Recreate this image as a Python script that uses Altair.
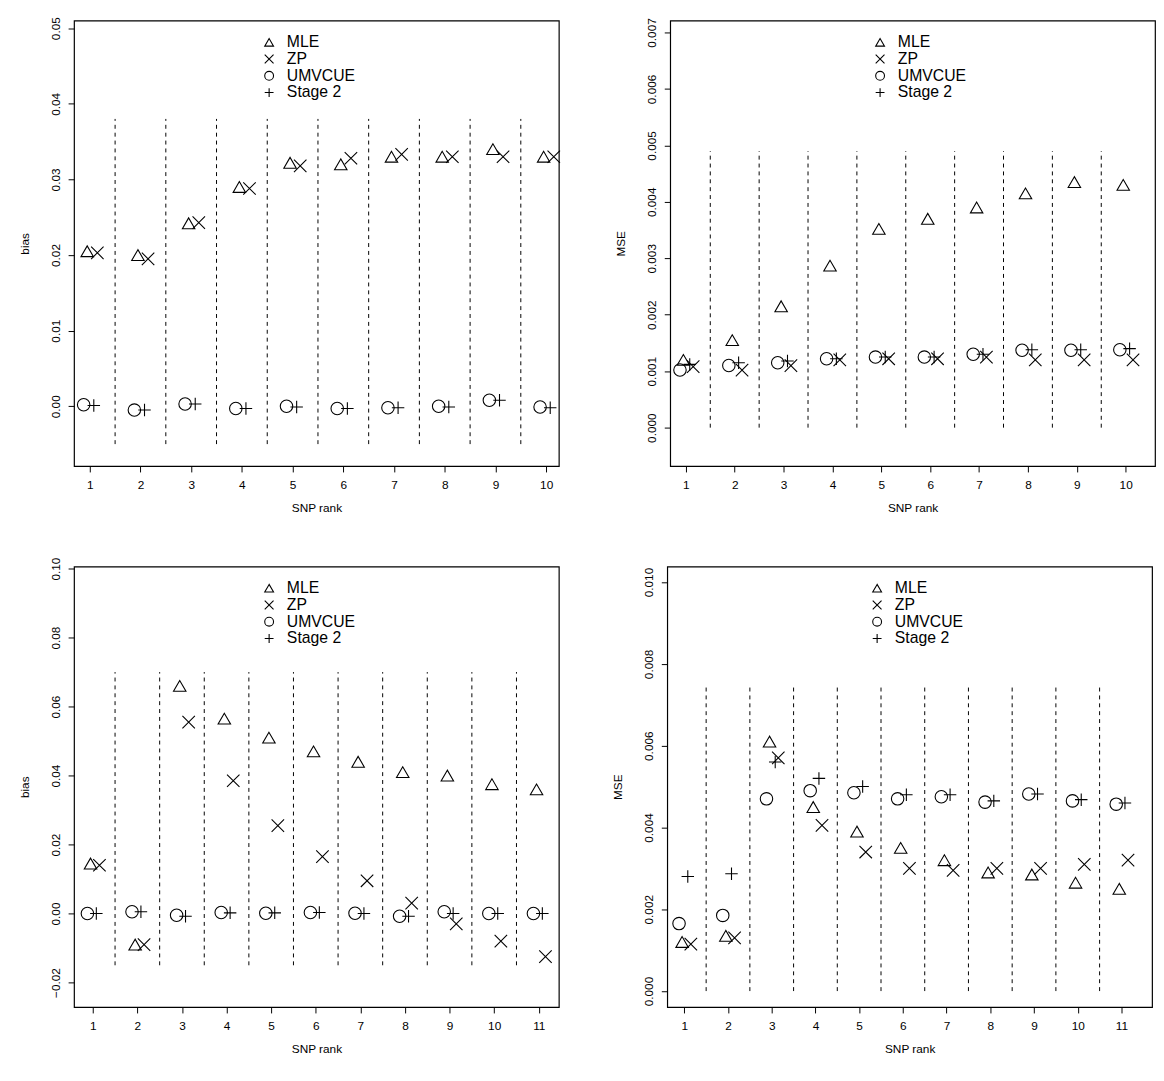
import altair as alt
import pandas as pd

methods = ["MLE", "ZP", "UMVCUE", "Stage 2"]
offsets = {"MLE": -0.05, "ZP": 0.15, "UMVCUE": -0.12, "Stage 2": 0.08}

# top-left: bias, 10 SNPs
tl_mle = [0.0205, 0.0200, 0.0242, 0.0290, 0.0322, 0.0320, 0.0330, 0.0330, 0.0340, 0.0330]
tl_zp = [0.0203, 0.0195, 0.0243, 0.0288, 0.0318, 0.0328, 0.0333, 0.0330, 0.0330, 0.0330]
tl_umv = [0.0002, -0.0005, 0.0003, -0.0003, 0.0000, -0.0003, -0.0002, 0.0000, 0.0008, -0.0001]
tl_st2 = [0.0001, -0.0005, 0.0003, -0.0003, -0.0001, -0.0003, -0.0002, -0.0001, 0.0008, -0.0002]

# top-right: MSE, 10 SNPs
tr_mle = [0.00120, 0.00155, 0.00215, 0.00287, 0.00352, 0.00370, 0.00390, 0.00415, 0.00435, 0.00430]
tr_zp = [0.00108, 0.00102, 0.00110, 0.00120, 0.00122, 0.00122, 0.00125, 0.00120, 0.00120, 0.00120]
tr_umv = [0.00102, 0.00110, 0.00115, 0.00122, 0.00125, 0.00125, 0.00130, 0.00137, 0.00137, 0.00138]
tr_st2 = [0.00112, 0.00115, 0.00118, 0.00122, 0.00125, 0.00125, 0.00130, 0.00138, 0.00138, 0.00140]

# bottom-left: bias, 11 SNPs
bl_mle = [0.0145, -0.0090, 0.0660, 0.0565, 0.0510, 0.0470, 0.0440, 0.0410, 0.0400, 0.0375, 0.0360]
bl_zp = [0.0140, -0.0090, 0.0555, 0.0385, 0.0255, 0.0165, 0.0095, 0.0030, -0.0030, -0.0080, -0.0125]
bl_umv = [0.0000, 0.0005, -0.0005, 0.0003, 0.0001, 0.0003, 0.0001, -0.0008, 0.0005, 0.0000, 0.0000]
bl_st2 = [0.0000, 0.0005, -0.0008, 0.0002, 0.0002, 0.0003, 0.0000, -0.0008, 0.0000, 0.0000, 0.0000]

# bottom-right: MSE, 11 SNPs
br_mle = [0.00120, 0.00135, 0.00610, 0.00450, 0.00390, 0.00350, 0.00320, 0.00290, 0.00285, 0.00265, 0.00250]
br_zp = [0.00115, 0.00130, 0.00570, 0.00405, 0.00340, 0.00300, 0.00295, 0.00300, 0.00300, 0.00310, 0.00320]
br_umv = [0.00165, 0.00185, 0.00470, 0.00490, 0.00485, 0.00470, 0.00475, 0.00462, 0.00482, 0.00465, 0.00457]
br_st2 = [0.00280, 0.00287, 0.00560, 0.00520, 0.00500, 0.00480, 0.00480, 0.00465, 0.00482, 0.00468, 0.00460]

shapes = ["triangle-up", "M-1,-1L1,1M1,-1L-1,1", "circle", "M-1,0L1,0M0,-1L0,1"]
FONT = "Liberation Sans"


def panel(series, ytitle, ydom, yticks, yfmt, xdom, dash_lo, dash_hi, legx, h):
    n = len(series[0])
    rows = []
    for m, vals in zip(methods, series):
        for i, v in enumerate(vals):
            rows.append({"method": m, "x": i + 1 + offsets[m], "y": v})
    df = pd.DataFrame(rows)
    dash = pd.DataFrame({"x": [i + 0.5 for i in range(1, n)], "lo": dash_lo, "hi": dash_hi})

    xs = alt.Scale(domain=xdom, nice=False, zero=False)
    ys = alt.Scale(domain=ydom, nice=False, zero=False)

    rules = alt.Chart(dash).mark_rule(color="black", strokeDash=[4, 4], strokeWidth=1).encode(
        x=alt.X("x:Q", scale=xs),
        y=alt.Y("lo:Q", scale=ys),
        y2="hi:Q",
    )
    pts = alt.Chart(df).mark_point(filled=False, color="black", size=160, strokeWidth=1.1, opacity=1).encode(
        x=alt.X("x:Q", scale=xs, title="SNP rank",
                axis=alt.Axis(values=list(range(1, n + 1)), format="d", grid=False, domain=False,
                              tickColor="black", labelColor="black", titleColor="black",
                              labelFont=FONT, titleFont=FONT, labelFontSize=12, titleFontSize=12,
                              titleFontWeight="normal", tickSize=6, labelPadding=8, titlePadding=12)),
        y=alt.Y("y:Q", scale=ys, title=ytitle,
                axis=alt.Axis(values=yticks, format=yfmt, grid=False, domain=False, labelAngle=-90,
                              labelAlign="center", labelBaseline="bottom",
                              tickColor="black", labelColor="black", titleColor="black",
                              labelFont=FONT, titleFont=FONT, labelFontSize=12, titleFontSize=12,
                              titleFontWeight="normal", tickSize=6, labelPadding=6, titlePadding=18)),
        shape=alt.Shape("method:N", scale=alt.Scale(domain=methods, range=shapes),
                        legend=alt.Legend(title=None, orient="none", legendX=legx, legendY=14,
                                          labelFont=FONT, labelFontSize=16, labelColor="black",
                                          symbolSize=80, symbolStrokeColor="black", symbolFillColor="transparent",
                                          symbolStrokeWidth=1.1, rowPadding=1, labelOffset=10)),
    )
    return alt.layer(rules, pts).properties(
        width=492, height=h, view=alt.ViewBackground(stroke="black", strokeWidth=1.2)
    ).resolve_scale(shape="independent")


tl = panel([tl_mle, tl_zp, tl_umv, tl_st2], "bias", [-0.0079, 0.051],
           [0.0, 0.01, 0.02, 0.03, 0.04, 0.05], ".2f", [0.69, 10.25], -0.005, 0.038, 190, 452)
tr = panel([tr_mle, tr_zp, tr_umv, tr_st2], "MSE", [-0.00068, 0.00721],
           [0.0, 0.001, 0.002, 0.003, 0.004, 0.005, 0.006, 0.007], ".3f", [0.68, 10.6], 0.0, 0.0049, 205, 452)
bl = panel([bl_mle, bl_zp, bl_umv, bl_st2], "bias", [-0.0271, 0.1006],
           [-0.02, 0.0, 0.02, 0.04, 0.06, 0.08, 0.10], ".2f", [0.58, 11.45], -0.015, 0.07, 190, 447)
br = panel([br_mle, br_zp, br_umv, br_st2], "MSE", [-0.00039, 0.01038],
           [0.0, 0.002, 0.004, 0.006, 0.008, 0.010], ".3f", [0.61, 11.7], 0.0, 0.0075, 205, 447)

chart = alt.vconcat(
    alt.hconcat(tl, tr, spacing=52).resolve_scale(shape="independent"),
    alt.hconcat(bl, br, spacing=52).resolve_scale(shape="independent"),
    spacing=42,
).resolve_scale(shape="independent").configure(padding={"left": 10, "top": 0, "right": 0, "bottom": 0})

chart.save("out.html", embed_options={"renderer": "svg", "actions": False})
